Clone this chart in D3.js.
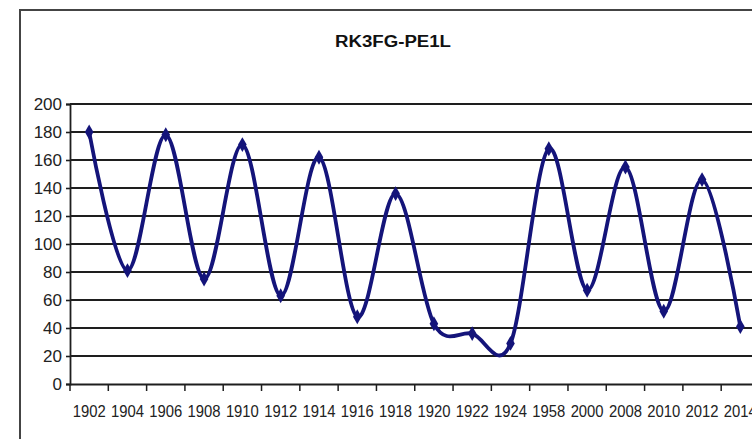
<!DOCTYPE html>
<html>
<head>
<meta charset="utf-8">
<script src="https://cdn.jsdelivr.net/npm/d3@7"></script>
<style>
  html, body { margin: 0; padding: 0; background: #ffffff; }
  svg { display: block; }
</style>
</head>
<body>
<svg id="chart"></svg>
<script>
const chartTitle = "RK3FG-PE1L";
const categories = ["1902", "1904", "1906", "1908", "1910", "1912", "1914", "1916", "1918",
  "1920", "1922", "1924", "1958", "2000", "2008", "2010", "2012", "2014"];
const seriesValues = [180, 81, 178, 75, 171, 63, 162, 48, 136, 43, 36, 29, 168, 67, 155, 52, 146, 41];
const yTicks = [0, 20, 40, 60, 80, 100, 120, 140, 160, 180, 200];

const width = 752;
const height = 439;
const plot = { left: 70, right: 759.5, top: 104, bottom: 384 };
const navy = "#14147a";

const svg = d3.select("#chart").attr("width", width).attr("height", height);

// outer chart border (the picture is cropped on the right and bottom)
svg.append("rect")
  .attr("x", 20).attr("y", 10)
  .attr("width", 746).attr("height", 440)
  .attr("fill", "#ffffff")
  .attr("stroke", "#444")
  .attr("stroke-width", 2);

svg.append("text")
  .attr("x", 393).attr("y", 47)
  .attr("text-anchor", "middle")
  .attr("textLength", 116)
  .attr("lengthAdjust", "spacingAndGlyphs")
  .style("font-family", "Liberation Sans, Arial, sans-serif")
  .style("font-size", "16px")
  .style("font-weight", "bold")
  .style("fill", "#111")
  .text(chartTitle);

const x = d3.scaleBand().domain(categories).range([plot.left, plot.right]).padding(0);
const y = d3.scaleLinear().domain([0, 200]).range([plot.bottom, plot.top]);

// horizontal gridlines
svg.append("g")
  .selectAll("line")
  .data(yTicks.filter(function (d) { return d > 0; }))
  .enter()
  .append("line")
  .attr("x1", plot.left).attr("x2", plot.right)
  .attr("y1", function (d) { return y(d); })
  .attr("y2", function (d) { return y(d); })
  .attr("stroke", "#1e1e1e")
  .attr("stroke-width", 1.8);

// y axis
const yAxis = svg.append("g")
  .attr("transform", "translate(" + plot.left + ",0)")
  .call(d3.axisLeft(y).tickValues(yTicks).tickSize(4).tickPadding(4).tickFormat(d3.format("d")));
yAxis.select(".domain").attr("stroke", "#1e1e1e").attr("stroke-width", 1.8);
yAxis.selectAll(".tick line").attr("stroke", "#1e1e1e").attr("stroke-width", 1.6);
yAxis.selectAll("text")
  .style("font-family", "Liberation Sans, Arial, sans-serif")
  .style("font-size", "17px")
  .style("fill", "#222");

// x axis: labels at band centres, ticks between categories
const xAxis = svg.append("g")
  .attr("transform", "translate(0," + plot.bottom + ")")
  .call(d3.axisBottom(x).tickSize(0).tickPadding(21));
xAxis.select(".domain").attr("stroke", "#1e1e1e").attr("stroke-width", 2);
xAxis.selectAll("text")
  .attr("textLength", 33)
  .attr("lengthAdjust", "spacingAndGlyphs")
  .style("font-family", "Liberation Sans, Arial, sans-serif")
  .style("font-size", "17px")
  .style("fill", "#222");

xAxis.selectAll(".between")
  .data(categories)
  .enter()
  .append("line")
  .attr("class", "between")
  .attr("x1", function (d) { return x(d); })
  .attr("x2", function (d) { return x(d); })
  .attr("y1", 0).attr("y2", 7)
  .attr("stroke", "#1e1e1e")
  .attr("stroke-width", 1.5);

// smoothed series line
const points = categories.map(function (c, i) {
  return { cat: c, value: seriesValues[i] };
});

const line = d3.line()
  .x(function (d) { return x(d.cat) + x.bandwidth() / 2; })
  .y(function (d) { return y(d.value); })
  .curve(d3.curveCardinal.tension(0));

svg.append("path")
  .datum(points)
  .attr("d", line)
  .attr("fill", "none")
  .attr("stroke", navy)
  .attr("stroke-width", 3.8)
  .attr("stroke-linejoin", "round");

svg.append("g")
  .selectAll("path")
  .data(points)
  .enter()
  .append("path")
  .attr("d", d3.symbol().type(d3.symbolDiamond).size(64))
  .attr("transform", function (d) {
    return "translate(" + (x(d.cat) + x.bandwidth() / 2) + "," + y(d.value) + ")";
  })
  .attr("fill", navy);
</script>
</body>
</html>
